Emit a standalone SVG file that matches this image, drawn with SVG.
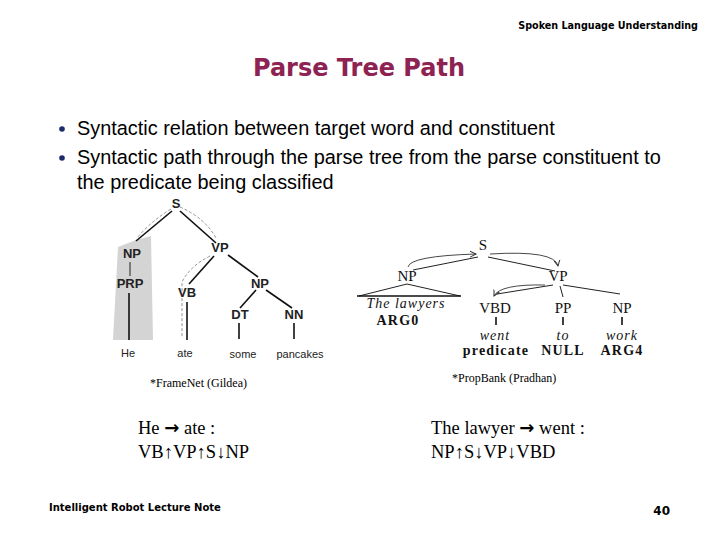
<svg xmlns="http://www.w3.org/2000/svg" width="720" height="540" viewBox="0 0 720 540">
<defs>
<style>
.hdr{font-family:"DejaVu Sans",sans-serif;font-weight:bold;fill:#000}
.title{font-family:"DejaVu Sans",sans-serif;font-weight:bold;font-size:24px;fill:#8e2252}
.bul{font-family:"Liberation Sans",Arial,sans-serif;font-size:19.9px;fill:#000}
.dot{fill:#1f2a6b}
.lt{font-family:"Liberation Sans",Arial,sans-serif;font-weight:bold;font-size:13px;fill:#222;text-anchor:middle}
.lw{font-family:"Liberation Sans",Arial,sans-serif;font-size:11px;fill:#222;text-anchor:middle}
.rt{font-family:"Liberation Serif","Times New Roman",serif;font-size:15px;fill:#111;text-anchor:middle}
.ri{font-family:"Liberation Serif","Times New Roman",serif;font-style:italic;font-size:14px;fill:#111;text-anchor:middle;letter-spacing:1px}
.rb{font-family:"Liberation Serif","Times New Roman",serif;font-weight:bold;font-size:14px;fill:#111;text-anchor:middle;letter-spacing:1.2px}
.cap{font-family:"Liberation Serif","Times New Roman",serif;font-size:12px;fill:#000}
.path{font-family:"Liberation Serif","Times New Roman","DejaVu Serif",serif;font-size:18.5px;fill:#000}
.arr{font-family:"DejaVu Sans",sans-serif;font-weight:bold;font-size:18px}
.e{stroke:#111;stroke-width:1.6;fill:none}
.e2{stroke:#222;stroke-width:1;fill:none}
.d{stroke:#777;stroke-width:0.8;fill:none;stroke-dasharray:3 2}
.c{stroke:#333;stroke-width:0.9;fill:none}
</style>
<marker id="ah" markerWidth="8" markerHeight="8" refX="6" refY="4" orient="auto" markerUnits="userSpaceOnUse">
<path d="M0,1 L6,4 L0,7" fill="none" stroke="#333" stroke-width="1"/>
</marker>
</defs>
<rect width="720" height="540" fill="#fff"/>
<text class="hdr" x="698" y="29" font-size="9.6" text-anchor="end">Spoken Language Understanding</text>
<text class="title" x="359" y="76" text-anchor="middle">Parse Tree Path</text>
<circle class="dot" cx="62" cy="129" r="2.8"/>
<text class="bul" x="77" y="135">Syntactic relation between target word and constituent</text>
<circle class="dot" cx="62" cy="158" r="2.8"/>
<text class="bul" x="77" y="164">Syntactic path through the parse tree from the parse constituent to</text>
<text class="bul" x="77" y="189">the predicate being classified</text>

<g id="left-tree">
<polygon points="118,247 136,240 151,236 153,340 113,340" fill="#d4d4d4"/>
<g id="connectors-left">
<line class="e" x1="172" y1="211" x2="136" y2="241"/>
<line class="e" x1="180" y1="211" x2="216" y2="243"/>
<line class="e2" x1="130" y1="262" x2="130" y2="276"/>
<line class="e" x1="129" y1="293" x2="129" y2="340"/>
<line class="e" x1="214" y1="256" x2="189" y2="284"/>
<line class="e" x1="228" y1="255" x2="258" y2="277"/>
<line class="e" x1="187" y1="302" x2="187" y2="340"/>
<line class="e" x1="256" y1="290" x2="240" y2="308"/>
<line class="e" x1="266" y1="290" x2="292" y2="308"/>
<line class="e" x1="239" y1="323" x2="239" y2="339"/>
<line class="e" x1="294" y1="323" x2="294" y2="339"/>
<path class="d" d="M171,209 Q150,222 137,238"/>
<path class="d" d="M180,207 Q205,218 216,238"/>
<path class="d" d="M210,256 Q190,266 182,282 L182,337"/>
</g>
<g id="n-S"><text class="lt" x="176" y="208">S</text></g>
<g id="n-NP1"><text class="lt" x="132" y="258">NP</text></g>
<g id="n-PRP"><text class="lt" x="130" y="288">PRP</text></g>
<g id="n-VP"><text class="lt" x="220" y="252">VP</text></g>
<g id="n-VB"><text class="lt" x="187" y="297">VB</text></g>
<g id="n-NP2"><text class="lt" x="260" y="288">NP</text></g>
<g id="n-DT"><text class="lt" x="240" y="319">DT</text></g>
<g id="n-NN"><text class="lt" x="294" y="319">NN</text></g>
<text class="lw" x="128" y="357">He</text>
<text class="lw" x="185" y="357">ate</text>
<text class="lw" x="243" y="358">some</text>
<text class="lw" x="300" y="358">pancakes</text>
</g>

<g id="right-tree">
<g id="connectors-right">
<line class="e2" x1="478" y1="257" x2="413" y2="270"/>
<line class="e2" x1="488" y1="257" x2="555" y2="271"/>
<polyline class="e2" points="359,296 407,284 460,296"/>
<line x1="357" y1="296" x2="461" y2="296" stroke="#111" stroke-width="1.6"/>
<line class="e2" x1="553" y1="285" x2="497" y2="294"/>
<line class="e2" x1="560" y1="286" x2="563" y2="297"/>
<line class="e2" x1="563" y1="285" x2="620" y2="294"/>
<line class="e" x1="496" y1="317" x2="496" y2="325"/>
<line class="e" x1="563" y1="317" x2="563" y2="325"/>
<line class="e" x1="622" y1="317" x2="622" y2="325"/>
<path class="c" d="M408,267 Q410,256 476,254" marker-end="url(#ah)"/>
<path class="c" d="M490,254 Q555,250 558,266" marker-end="url(#ah)"/>
<path class="c" d="M545,285 Q500,284 494,296" marker-end="url(#ah)"/>
</g>
<g id="r-S"><text class="rt" x="483" y="250">S</text></g>
<g id="r-NP"><text class="rt" x="407" y="281">NP</text></g>
<g id="r-VP"><text class="rt" x="558" y="281">VP</text></g>
<g id="r-VBD"><text class="rt" x="495" y="313">VBD</text></g>
<g id="r-PP"><text class="rt" x="563" y="313">PP</text></g>
<g id="r-NP2"><text class="rt" x="622" y="313">NP</text></g>
<text class="ri" x="406" y="308">The lawyers</text>
<text class="rb" x="398" y="325">ARG0</text>
<text class="ri" x="495" y="340">went</text>
<text class="ri" x="563" y="340">to</text>
<text class="ri" x="622" y="340">work</text>
<text class="rb" x="496" y="355">predicate</text>
<text class="rb" x="563" y="355">NULL</text>
<text class="rb" x="622" y="355">ARG4</text>
</g>

<text class="cap" x="150" y="387">*FrameNet (Gildea)</text>
<text class="cap" x="452" y="382">*PropBank (Pradhan)</text>
<text class="path" x="138" y="434">He <tspan class="arr">→</tspan> ate :</text>
<text class="path" x="138" y="458">VB↑VP↑S↓NP</text>
<text class="path" x="431" y="434">The lawyer <tspan class="arr">→</tspan> went :</text>
<text class="path" x="431" y="458">NP↑S↓VP↓VBD</text>
<text class="hdr" x="49" y="511" font-size="10">Intelligent Robot Lecture Note</text>
<text class="hdr" x="670" y="515" font-size="12" text-anchor="end">40</text>
</svg>
